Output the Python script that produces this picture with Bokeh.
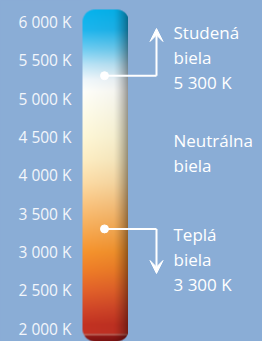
import numpy as np
from bokeh.plotting import figure
from bokeh.models import Range1d, FixedTicker, Arrow, VeeHead, ColumnDataSource
from bokeh.core.properties import value
from bokeh.embed import file_html
from bokeh.resources import INLINE

# ---- data ----
ticks = [2000, 2500, 3000, 3500, 4000, 4500, 5000, 5500, 6000]
tick_labels = ["2 000 K", "2 500 K", "3 000 K", "3 500 K", "4 000 K",
               "4 500 K", "5 000 K", "5 500 K", "6 000 K"]

# gradient colour stops along the temperature bar (K, r, g, b)
stop_T = [1820, 1900, 1915, 1925, 1935, 2050, 2250, 2500, 2750, 3000, 3300, 3600, 3900,
          4200, 4500, 4800, 5100, 5250, 5450, 5650, 5900, 6170]
stop_R = [120, 145, 185, 185, 195, 195, 210, 228, 240, 247, 248, 251, 253, 254, 255, 255, 255, 240, 185, 110, 30, 5]
stop_G = [18, 25, 95, 95, 50, 50, 70, 98, 125, 148, 172, 195, 220, 238, 248, 252, 255, 248, 228, 205, 182, 180]
stop_B = [18, 22, 85, 85, 36, 34, 40, 42, 40, 45, 85, 125, 165, 195, 215, 232, 250, 252, 247, 242, 238, 238]

bar_T_min, bar_T_max = 1830, 6165

cool_T = 5300
warm_T = 3300
cool_lines = ["Studená", "biela", "5 300 K"]
neutral_lines = ["Neutrálna", "biela"]
warm_lines = ["Teplá", "biela", "3 300 K"]

BG = "#8aadd6"

# ---- figure ----
W, H = 262, 341
px_per_K = 38.3 / 500.0
def T_at(py):
    return 2000 + (328 - py) / px_per_K
y0 = T_at(H)
y1 = T_at(0)

p = figure(width=W, height=H, output_backend="svg", toolbar_location=None,
           x_range=Range1d(80, 262), y_range=Range1d(y0, y1),
           x_axis_location=None, min_border_left=80, min_border_right=0,
           min_border_top=0, min_border_bottom=0)
p.background_fill_color = BG
p.border_fill_color = BG
p.outline_line_color = None
p.grid.grid_line_color = None

ax = p.yaxis[0]
ax.ticker = FixedTicker(ticks=ticks)
ax.major_label_overrides = {t: l for t, l in zip(ticks, tick_labels)}
ax.axis_line_color = None
ax.major_tick_line_color = None
ax.minor_tick_line_color = None
ax.major_tick_out = 0
ax.major_label_standoff = 9
ax.major_label_text_font = "Open Sans"
ax.major_label_text_font_size = "15.5px"
ax.major_label_text_color = "#f3f6fb"

# ---- gradient bar as RGBA image ----
bx0, bw = 82, 45.5
nw = 46
nh = int(round((bar_T_max - bar_T_min) * px_per_K))
Ts = bar_T_min + (np.arange(nh) + 0.5) / nh * (bar_T_max - bar_T_min)
r = np.interp(Ts, stop_T, stop_R)
g = np.interp(Ts, stop_T, stop_G)
b = np.interp(Ts, stop_T, stop_B)
xs = (np.arange(nw) + 0.5) / nw
shade = 1 - 0.05 * xs
edge = np.clip((xs - 0.66) / 0.34, 0, 1)
shade = shade - 0.40 * edge ** 1.4
R = np.clip(r[:, None] * shade[None, :], 0, 255)
G = np.clip(g[:, None] * shade[None, :], 0, 255)
B = np.clip(b[:, None] * shade[None, :], 0, 255)

# rounded corners
rad = 12.5
jj, ii = np.meshgrid(np.arange(nw) + 0.5, np.arange(nh) + 0.5)
cx = np.clip(jj, rad, nw - rad)
cy = np.clip(ii, rad, nh - rad)
d = np.sqrt((jj - cx) ** 2 + (ii - cy) ** 2)
A = np.clip(rad - d + 0.5, 0, 1) * 255

img = np.empty((nh, nw), dtype=np.uint32)
view = img.view(dtype=np.uint8).reshape((nh, nw, 4))
view[:, :, 0] = R.astype(np.uint8)
view[:, :, 1] = G.astype(np.uint8)
view[:, :, 2] = B.astype(np.uint8)
view[:, :, 3] = A.astype(np.uint8)
p.image_rgba(image=[img], x=bx0, y=bar_T_min, dw=bw, dh=bar_T_max - bar_T_min)

# ---- markers and arrows ----
dot_x, corner_x = 104, 156
p.scatter(x=[dot_x, dot_x], y=[cool_T, warm_T], size=8, color="white")
for T in (cool_T, warm_T):
    p.line(x=[dot_x, corner_x], y=[T, T], line_color="white", line_width=2)
cool_tip = T_at(28)
warm_tip = T_at(273)
for T, tip in ((cool_T, cool_tip), (warm_T, warm_tip)):
    p.add_layout(Arrow(x_start=corner_x, y_start=T, x_end=corner_x, y_end=tip,
                       line_color="white", line_width=2,
                       end=VeeHead(size=13, fill_color="white", line_color="white", line_width=1)))

# ---- labels ----
line_gap = 25
lx, ly, lt, lo = [], [], [], []
for anchor, lines in ((T_at(32), cool_lines), (T_at(140), neutral_lines), (T_at(234), warm_lines)):
    for k, s in enumerate(lines):
        lx.append(173)
        ly.append(anchor)
        lt.append(s)
        lo.append(k * line_gap)
src = ColumnDataSource(dict(x=lx, y=ly, text=lt, yo=lo))
p.text(x="x", y="y", text="text", y_offset="yo", source=src,
       text_font=value("Open Sans"), text_font_size="17px",
       text_color="white", text_baseline="middle", text_align="left")

html = file_html(p, INLINE)
html = html.replace("<body>", '<body style="margin:0;background:%s">' % BG, 1)
html = html.replace("<html", '<html style="background:%s"' % BG, 1)
open("out.html", "w").write(html)
